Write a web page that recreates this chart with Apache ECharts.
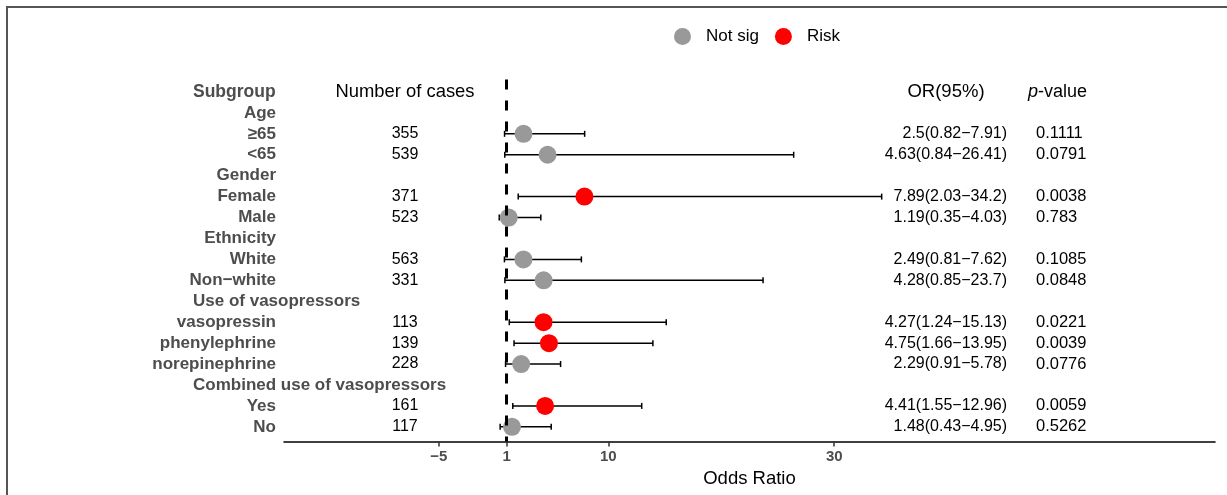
<!DOCTYPE html>
<html>
<head>
<meta charset="utf-8">
<script src="https://cdn.jsdelivr.net/npm/echarts@6/dist/echarts.min.js"></script>
<style>html,body{margin:0;padding:0;background:#fff}#c{width:1227px;height:495px}</style>
</head>
<body>
<div id="c"></div>
<script>
// ---- data ----
var labels = ['Subgroup','Age','\u226565','<65','Gender','Female','Male','Ethnicity','White','Non\u2212white','Use of vasopressors','vasopressin','phenylephrine','norepinephrine','Combined use of vasopressors','Yes','No'];
var cases = ['Number of cases','','355','539','','371','523','','563','331','','113','139','228','','161','117'];
var orVal = [null,null,2.5,4.63,null,7.89,1.19,null,2.49,4.28,null,4.27,4.75,2.29,null,4.41,1.48];
var ciLow = [null,null,0.82,0.84,null,2.03,0.35,null,0.81,0.85,null,1.24,1.66,0.91,null,1.55,0.43];
var ciHigh = [null,null,7.91,26.41,null,34.2,4.03,null,7.62,23.7,null,15.13,13.95,5.78,null,12.96,4.95];
var orText = ['OR(95%)','','2.5(0.82\u22127.91)','4.63(0.84\u221226.41)','','7.89(2.03\u221234.2)','1.19(0.35\u22124.03)','','2.49(0.81\u22127.62)','4.28(0.85\u221223.7)','','4.27(1.24\u221215.13)','4.75(1.66\u221213.95)','2.29(0.91\u22125.78)','','4.41(1.55\u221212.96)','1.48(0.43\u22124.95)'];
var pText = ['p-value','','0.1111','0.0791','','0.0038','0.783','','0.1085','0.0848','','0.0221','0.0039','0.0776','','0.0059','0.5262'];
var sig = ['','','Not sig','Not sig','','Risk','Not sig','','Not sig','Not sig','','Risk','Risk','Not sig','','Risk','Not sig'];
var xTicks = [-5, 1, 10, 30];

var FONT = 'Liberation Sans, Arial, sans-serif';
var nsData = [], riskData = [], barData = [], textData = [];
for (var i = 0; i < labels.length; i++) {
  textData.push([0, i]);
  if (orVal[i] != null) {
    barData.push([ciLow[i], ciHigh[i], i]);
    if (sig[i] === 'Risk') riskData.push([orVal[i], i]); else nsData.push([orVal[i], i]);
  }
}

var chart = echarts.init(document.getElementById('c'), null, {renderer: 'canvas'});
var option = {
  animation: false,
  backgroundColor: '#fff',
  graphic: [{
    type: 'rect', shape: {x: 7, y: 7, width: 1300, height: 600},
    style: {fill: 'none', stroke: '#555', lineWidth: 2}, silent: true
  }],
  legend: {
    top: 23, left: 669, itemWidth: 17, itemHeight: 17, itemGap: 16,
    icon: 'circle',
    textStyle: {fontFamily: FONT, fontSize: 17, color: '#000', padding: [0, 0, 0, 10]},
    data: ['Not sig', 'Risk']
  },
  grid: {left: 284, right: 12, top: 79.4, bottom: 53.5, containLabel: false, outerBoundsMode: 'none'},
  xAxis: {
    type: 'value', min: -18.7, max: 63.7, position: 'bottom',
    splitLine: {show: false},
    axisLine: {onZero: false, lineStyle: {color: '#000', width: 1.6}},
    axisTick: {show: true, customValues: xTicks, length: 5, lineStyle: {color: '#333', width: 1.5}},
    axisLabel: {customValues: xTicks, fontFamily: FONT, fontSize: 15, fontWeight: 'bold', color: '#4d4d4d', margin: 8,
      formatter: function (v) { return v < 0 ? '\u2212' + Math.abs(v) : String(v); }},
    name: 'Odds Ratio', nameLocation: 'middle', nameGap: 28,
    nameTextStyle: {fontFamily: FONT, fontSize: 18.5, color: '#000'}
  },
  yAxis: {type: 'value', inverse: true, min: -0.6, max: 16.7, show: false},
  series: [
    {
      type: 'custom', name: 'ci', z: 2, clip: false,
      data: barData,
      renderItem: function (params, api) {
        var y = api.value(2);
        var a = api.coord([api.value(0), y]);
        var b = api.coord([api.value(1), y]);
        var h = 3;
        var st = {stroke: '#000', lineWidth: 1.5};
        return {type: 'group', children: [
          {type: 'line', shape: {x1: a[0], y1: a[1], x2: b[0], y2: b[1]}, style: st},
          {type: 'line', shape: {x1: a[0], y1: a[1] - h, x2: a[0], y2: a[1] + h}, style: st},
          {type: 'line', shape: {x1: b[0], y1: b[1] - h, x2: b[0], y2: b[1] + h}, style: st}
        ]};
      },
      markLine: {
        silent: true, symbol: 'none', label: {show: false},
        lineStyle: {color: '#000', type: [10, 11], width: 3},
        data: [{xAxis: 1}]
      }
    },
    {type: 'scatter', name: 'Not sig', z: 3, symbolSize: 18, itemStyle: {color: '#999999', opacity: 1}, data: nsData},
    {type: 'scatter', name: 'Risk', z: 3, symbolSize: 18, itemStyle: {color: '#ff0000', opacity: 1}, data: riskData},
    {
      type: 'custom', name: 'text', z: 4, clip: false, silent: true,
      data: textData,
      renderItem: function (params, api) {
        var i = api.value(1);
        var y = api.coord([0, i])[1];
        var left = (i === 10 || i === 14 || i === 0);
        var kids = [];
        var hdr = i === 0;
        kids.push({type: 'text', x: left ? 193 : 276, y: y, style: {
          text: labels[i], fontFamily: FONT, fontSize: hdr ? 17.5 : 17, fontWeight: 'bold', fill: '#4d4d4d',
          align: left ? 'left' : 'right', verticalAlign: 'middle'}});
        if (cases[i]) kids.push({type: 'text', x: 405, y: y, style: {
          text: cases[i], fontFamily: FONT, fontSize: hdr ? 18.4 : 16, fill: '#000', align: 'center', verticalAlign: 'middle'}});
        if (hdr) {
          kids.push({type: 'text', x: 946, y: y, style: {text: orText[i], fontFamily: FONT, fontSize: 18.5, fill: '#000', align: 'center', verticalAlign: 'middle'}});
          kids.push({type: 'text', x: 1087, y: y, style: {
            rich: {it: {fontStyle: 'italic', fontFamily: FONT, fontSize: 18, fill: '#000'}, n: {fontFamily: FONT, fontSize: 18, fill: '#000'}},
            text: '{it|p}{n|-value}', align: 'right', verticalAlign: 'middle'}});
        } else {
          if (orText[i]) kids.push({type: 'text', x: 1007, y: y, style: {text: orText[i], fontFamily: FONT, fontSize: 16, fill: '#000', align: 'right', verticalAlign: 'middle'}});
          if (pText[i]) kids.push({type: 'text', x: 1036, y: y, style: {text: pText[i], fontFamily: FONT, fontSize: 16.5, fill: '#000', align: 'left', verticalAlign: 'middle'}});
        }
        return {type: 'group', children: kids};
      }
    }
  ]
};
chart.setOption(option);
</script>
</body>
</html>
